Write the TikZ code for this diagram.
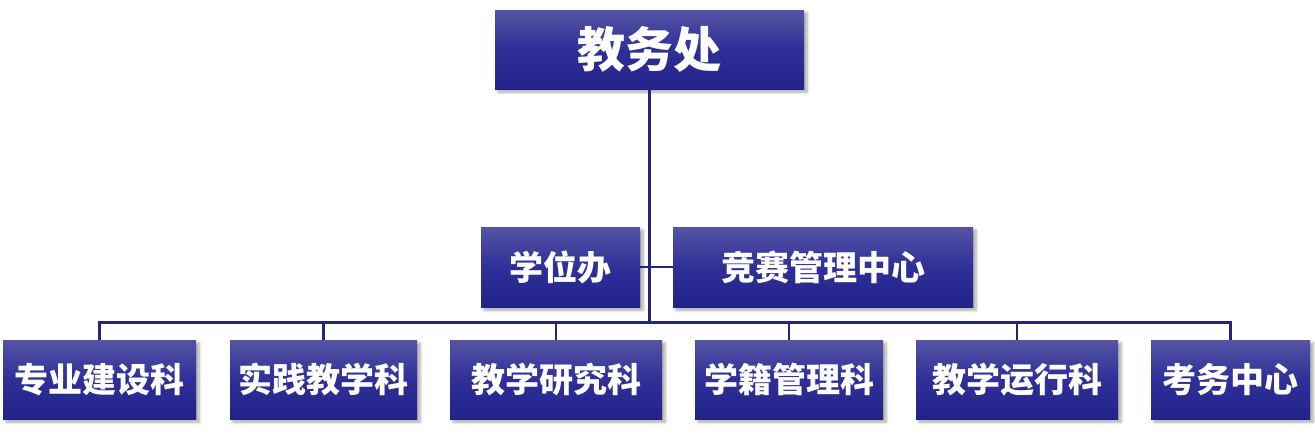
\documentclass[tikz,border=0pt]{standalone}
\usepackage{fontspec}
\newfontfamily\cjk{Noto Sans CJK SC}
\usetikzlibrary{shadows.blur}
\definecolor{boxtop}{HTML}{5454A4}
\definecolor{boxmid}{HTML}{2F2F98}
\definecolor{boxbot}{HTML}{22228B}
\definecolor{linecol}{HTML}{24247A}
\tikzset{
  orgbox/.style={rectangle, inner sep=0pt, top color=boxtop, bottom color=boxbot, middle color=boxmid,
    text=white, font=\cjk\bfseries\fontsize{34}{36}\selectfont,
    blur shadow={shadow xshift=3pt, shadow yshift=-3pt, shadow blur steps=6, shadow opacity=35, shadow blur radius=3pt}},
  conn/.style={draw=linecol, line width=2.2pt}
}
\begin{document}
\begin{tikzpicture}[x=1pt,y=-1pt]
\useasboundingbox (0,0) rectangle (1315,437);
\node[orgbox, minimum width=309pt, minimum height=79pt, font=\cjk\bfseries\fontsize{48}{50}\selectfont] (top) at (649.5,49.5) {教务处};
\node[orgbox, minimum width=159pt, minimum height=80pt] (xw) at (560.5,267) {学位办};
\node[orgbox, minimum width=300pt, minimum height=80pt] (js) at (823,267) {竞赛管理中心};
\node[orgbox, minimum width=193pt, minimum height=79pt] (b1) at (99.5,379.5) {专业建设科};
\node[orgbox, minimum width=187pt, minimum height=79pt] (b2) at (323.5,379.5) {实践教学科};
\node[orgbox, minimum width=212pt, minimum height=79pt] (b3) at (556,379.5) {教学研究科};
\node[orgbox, minimum width=188pt, minimum height=79pt] (b4) at (789,379.5) {学籍管理科};
\node[orgbox, minimum width=202pt, minimum height=79pt] (b5) at (1017,379.5) {教学运行科};
\node[orgbox, minimum width=159pt, minimum height=79pt] (b6) at (1230.5,379.5) {考务中心};
\coordinate (bus) at (650,322.5);
\draw[conn] (top.south) -- (top.south |- bus);
\draw[conn] (xw.east) -- (js.west);
\draw[conn] (b1.north) -- (b1.north |- bus) -- (b6.north |- bus) -- (b6.north);
\foreach \b in {b2,b3,b4,b5} \draw[conn] (\b.north) -- (\b.north |- bus);
\end{tikzpicture}
\end{document}
